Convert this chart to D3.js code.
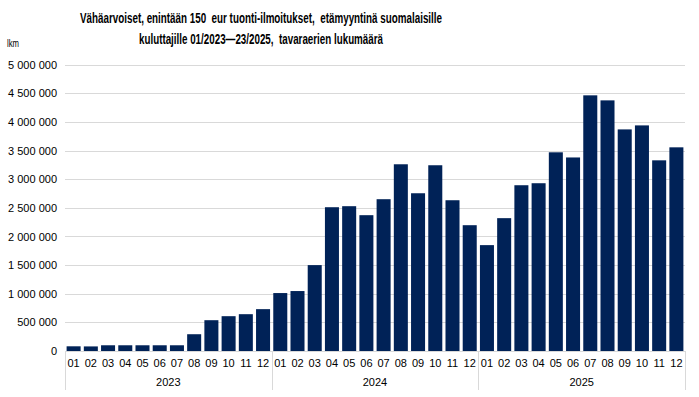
<!DOCTYPE html>
<html><head><meta charset="utf-8">
<script src="https://cdn.jsdelivr.net/npm/d3@7"></script>
<style>body{margin:0;background:#fff}svg{display:block}</style>
</head><body>
<svg id="c" width="699" height="397"></svg>
<script>
const titleLines = ["Vähäarvoiset, enintään 150  eur tuonti-ilmoitukset,  etämyyntinä suomalaisille",
                    "kuluttajille 01/2023\u201423/2025,  tavaraerien lukumäärä"];
const unitLabel = "lkm";
const years = ["2023", "2024", "2025"];
const months = ["01","02","03","04","05","06","07","08","09","10","11","12"];
const values2023 = [82000, 80000, 100000, 100000, 100000, 100000, 100000, 293000, 538000, 608000, 643000, 731000];
const values2024 = [1012000, 1047000, 1500000, 2511000, 2529000, 2372000, 2651000, 3261000, 2755000, 3244000, 2633000, 2197000];
const values2025 = [1849000, 2320000, 2895000, 2930000, 3470000, 3380000, 4465000, 4377000, 3870000, 3940000, 3330000, 3557000];
const yTicks = [0, 500000, 1000000, 1500000, 2000000, 2500000, 3000000, 3500000, 4000000, 4500000, 5000000];

const data = [];
[values2023, values2024, values2025].forEach((arr, yi) => arr.forEach((v, mi) => data.push({year: years[yi], month: months[mi], key: years[yi] + "-" + months[mi], value: v})));

const svg = d3.select("#c");
const L = 65, R = 685, T = 64.7, B = 351;
const x = d3.scaleBand().domain(data.map(d => d.key)).range([L, R]).paddingInner(0.186).paddingOuter(0.093);
const y = d3.scaleLinear().domain([0, 5000000]).range([B, T]);
const fmt = v => d3.format(",")(v).replace(/,/g, " ");
const font = "Liberation Sans, Arial, sans-serif";

// gridlines
svg.append("g").selectAll("line").data(yTicks.filter(t => t > 0)).join("line")
  .attr("x1", L).attr("x2", R).attr("y1", d => Math.round(y(d)) + 0.5).attr("y2", d => Math.round(y(d)) + 0.5)
  .attr("stroke", "#d9d9d9").attr("stroke-width", 1);

// y axis labels
const ya = svg.append("g").attr("transform", `translate(${L},0)`)
  .call(d3.axisLeft(y).tickValues(yTicks).tickFormat(fmt).tickSize(0).tickPadding(8));
ya.select(".domain").remove();
ya.selectAll("text").attr("font-family", font).attr("font-size", 11).attr("fill", "#000");

// bars
svg.append("g").selectAll("rect").data(data).join("rect")
  .attr("x", d => x(d.key)).attr("width", x.bandwidth())
  .attr("y", d => y(d.value)).attr("height", d => y(0) - y(d.value))
  .attr("fill", "#002257");

// baseline
svg.append("line").attr("x1", L).attr("x2", R).attr("y1", B + 0.5).attr("y2", B + 0.5).attr("stroke", "#d9d9d9");

// month labels
const xa = svg.append("g").attr("transform", `translate(0,${B})`)
  .call(d3.axisBottom(x).tickFormat(k => k.split("-")[1]).tickSize(0).tickPadding(8));
xa.select(".domain").remove();
xa.selectAll("text").attr("font-family", font).attr("font-size", 11).attr("fill", "#000");

// year dividers and labels
const step = (R - L) / data.length;
const boundaries = d3.range(0, years.length + 1).map(i => L + i * 12 * step);
svg.append("g").selectAll("line").data(boundaries).join("line")
  .attr("x1", d => Math.round(d) + 0.5).attr("x2", d => Math.round(d) + 0.5)
  .attr("y1", B).attr("y2", 390).attr("stroke", "#d9d9d9");
svg.append("g").selectAll("text").data(years).join("text")
  .attr("x", (d, i) => (boundaries[i] + boundaries[i + 1]) / 2).attr("y", 386)
  .attr("text-anchor", "middle").attr("font-family", font).attr("font-size", 11).attr("fill", "#000")
  .text(d => d);

// title
const titleWidths = [362, 244];
svg.append("g").selectAll("text").data(titleLines).join("text")
  .attr("x", 261).attr("y", (d, i) => 23 + i * 21)
  .attr("text-anchor", "middle").attr("font-family", font)
  .attr("font-weight", "bold").attr("font-size", 15).attr("fill", "#000")
  .style("white-space", "pre")
  .attr("textLength", (d, i) => titleWidths[i]).attr("lengthAdjust", "spacingAndGlyphs")
  .text(d => d);

svg.append("text").attr("x", 7).attr("y", 47).attr("font-family", font)
  .attr("font-size", 10.5).attr("fill", "#000")
  .attr("textLength", 12).attr("lengthAdjust", "spacingAndGlyphs").text(unitLabel);
</script>
</body></html>
